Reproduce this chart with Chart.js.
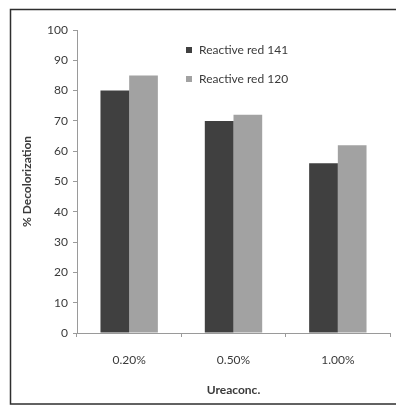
<!DOCTYPE html>
<html>
<head>
<meta charset="utf-8">
<script src="https://cdn.jsdelivr.net/npm/chart.js@4.4.1/dist/chart.umd.min.js"></script>
<style>
  html, body { margin: 0; padding: 0; background: #fff; }
  #wrap { position: relative; width: 396px; height: 410px; }
  canvas { display: block; }
</style>
</head>
<body>
<div id="wrap"><canvas id="c" width="396" height="410"></canvas></div>
<script>
// Urea concentration vs. % decolorization for two reactive dyes
const categories = ['0.20%', '0.50%', '1.00%'];
const red141 = [80, 70, 56];
const red120 = [85, 72, 62];
const seriesNames = ['Reactive red 141', 'Reactive red 120'];
const yTicks = [0, 10, 20, 30, 40, 50, 60, 70, 80, 90, 100];

const FONT = 'Lato, "Open Sans", "Liberation Sans", sans-serif';
const AXIS_GRAY = '#9a9a9a';
const TEXT = '#3a3a3a';

// White page, outer frame around the figure
const framePlugin = {
  id: 'frame',
  beforeDraw(chart) {
    const ctx = chart.ctx;
    ctx.save();
    ctx.fillStyle = '#ffffff';
    ctx.fillRect(0, 0, chart.width, chart.height);
    ctx.strokeStyle = '#2e2e2e';
    ctx.lineWidth = 1.5;
    ctx.strokeRect(10.5, 9.5, 400, 394.5);
    ctx.restore();
  }
};

// Legend stacked vertically inside the plot
const insideLegend = {
  id: 'insideLegend',
  afterDraw(chart) {
    const ctx = chart.ctx;
    ctx.save();
    ctx.font = '12px ' + FONT;
    ctx.textBaseline = 'middle';
    const x = 186, y0 = 50, gap = 29;
    chart.data.datasets.forEach((ds, i) => {
      const y = y0 + i * gap;
      ctx.fillStyle = ds.backgroundColor;
      ctx.fillRect(x, y - 3, 6, 6);
      ctx.fillStyle = TEXT;
      ctx.fillText(ds.label, x + 13, y);
    });
    ctx.restore();
  }
};

new Chart(document.getElementById('c'), {
  type: 'bar',
  data: {
    labels: categories,
    datasets: [
      { label: seriesNames[0], data: red141, backgroundColor: '#404040' },
      { label: seriesNames[1], data: red120, backgroundColor: '#a2a2a2' }
    ]
  },
  options: {
    responsive: false,
    animation: false,
    devicePixelRatio: 1,
    layout: { padding: { left: 20, top: 30, right: 6, bottom: 13 } },
    datasets: { bar: { categoryPercentage: 0.55, barPercentage: 1.0 } },
    plugins: { legend: { display: false }, tooltip: { enabled: false } },
    scales: {
      x: {
        afterFit(scale) { scale.height = 64; },
        grid: { display: true, offset: true, drawOnChartArea: false, tickLength: 4, color: AXIS_GRAY },
        border: { color: AXIS_GRAY, width: 1 },
        ticks: { color: TEXT, font: { family: FONT, size: 12 }, padding: 16 },
        title: { display: true, text: 'Ureaconc.', color: TEXT, font: { family: FONT, size: 12, weight: 'bold' }, padding: 0 }
      },
      y: {
        min: 0, max: 100,
        afterFit(scale) { scale.width = 57; },
        afterBuildTicks(scale) { scale.ticks = yTicks.map(v => ({ value: v })); },
        grid: { display: true, drawOnChartArea: false, tickLength: 4, color: AXIS_GRAY },
        border: { color: AXIS_GRAY, width: 1 },
        ticks: { color: TEXT, font: { family: FONT, size: 12 }, padding: 5 },
        title: { display: true, text: '% Decolorization', color: TEXT, font: { family: FONT, size: 12, weight: 'bold' }, padding: 0 }
      }
    }
  },
  plugins: [framePlugin, insideLegend]
});
</script>
</body>
</html>
